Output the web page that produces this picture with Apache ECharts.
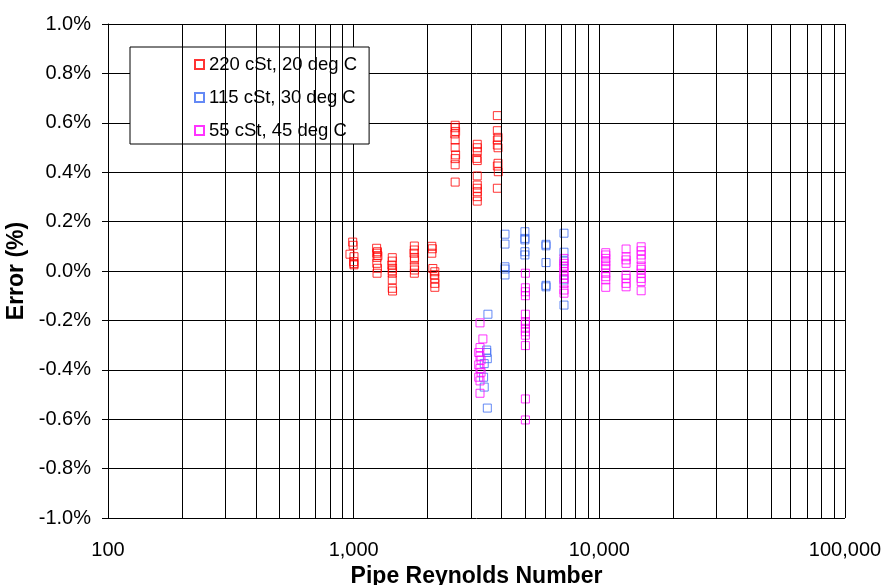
<!DOCTYPE html>
<html>
<head>
<meta charset="utf-8">
<script src="https://cdn.jsdelivr.net/npm/echarts@6/dist/echarts.min.js"></script>
<style>
  html, body { margin: 0; padding: 0; background: #fff; }
  #chart { width: 886px; height: 585px; }
</style>
</head>
<body>
<div id="chart"></div>
<script>
// Pipe Reynolds number (x) and error in % (y)
var oil220X = [991, 995, 966, 1003, 1000, 1003, 1003,
  1240, 1250, 1242, 1255, 1245, 1242, 1250, 1245,
  1436, 1436, 1430, 1440, 1436, 1436, 1436, 1436, 1440,
  1766, 1766, 1760, 1770, 1766, 1766, 1770, 1766,
  2080, 2090, 2080, 2100, 2140, 2130, 2140, 2140, 2140,
  2589, 2589, 2600, 2580, 2589, 2589, 2600, 2589, 2589, 2589,
  3185, 3185, 3185, 3170, 3185, 3185, 3185, 3185, 3185, 3185, 3185,
  3845, 3845, 3870, 3845, 3845, 3870, 3870, 3845, 3880, 3845];
var oil220Y = [0.117, 0.104, 0.068, 0.058, 0.038, 0.030, 0.025,
  0.092, 0.078, 0.072, 0.062, 0.055, 0.031, 0.011, -0.009,
  0.054, 0.040, 0.024, 0.011, 0.001, -0.009, -0.036, -0.070, -0.081,
  0.101, 0.085, 0.072, 0.055, 0.045, 0.017, 0.004, -0.009,
  0.100, 0.090, 0.072, 0.010, -0.003, -0.015, -0.030, -0.050, -0.066,
  0.590, 0.580, 0.565, 0.555, 0.530, 0.500, 0.470, 0.455, 0.430, 0.360,
  0.513, 0.499, 0.483, 0.456, 0.447, 0.385, 0.348, 0.335, 0.321, 0.301, 0.283,
  0.629, 0.568, 0.541, 0.530, 0.510, 0.499, 0.436, 0.425, 0.402, 0.335];

var oil115X = [3520, 3480, 3480, 3500, 3400, 3380, 3400, 3500,
  4130, 4130, 4130, 4130, 4130,
  4978, 4978, 4978, 4978, 4978,
  6066, 6066, 6066, 6066, 6066,
  7180, 7180, 7180, 7180, 7180];
var oil115Y = [-0.175, -0.320, -0.330, -0.355, -0.375, -0.430, -0.470, -0.555,
  0.149, 0.109, 0.017, 0.008, -0.016,
  0.159, 0.132, 0.126, 0.078, 0.065,
  0.108, 0.102, 0.034, -0.058, -0.064,
  0.153, 0.076, 0.040, -0.036, -0.138];

var oil55X = [3268, 3357, 3268, 3230, 3268, 3300, 3230, 3268, 3300, 3230, 3268, 3268,
  5000, 5000, 5000, 5000, 5000, 5000, 5000, 5000, 5000, 5000, 5000, 5000, 5000,
  7180, 7180, 7180, 7180, 7180, 7180, 7180, 7180, 7180, 7180,
  10620, 10620, 10620, 10620, 10620, 10620, 10620, 10620, 10620, 10620,
  12850, 12850, 12850, 12850, 12850, 12850, 12850, 12850,
  14800, 14800, 14800, 14800, 14800, 14800, 14800, 14800, 14800, 14800];
var oil55Y = [-0.210, -0.275, -0.310, -0.330, -0.345, -0.360, -0.380, -0.395, -0.410, -0.430, -0.445, -0.495,
  -0.009, -0.068, -0.084, -0.100, -0.175, -0.205, -0.215, -0.232, -0.246, -0.260, -0.302, -0.518, -0.603,
  0.051, 0.031, 0.020, 0.011, -0.003, -0.016, -0.030, -0.050, -0.077, -0.090,
  0.074, 0.065, 0.051, 0.038, 0.024, 0.011, -0.009, -0.023, -0.036, -0.066,
  0.089, 0.058, 0.045, 0.031, -0.016, -0.030, -0.050, -0.064,
  0.098, 0.082, 0.065, 0.047, 0.020, 0.007, -0.009, -0.030, -0.043, -0.080];

var seriesNames = ['220 cSt, 20 deg C', '115 cSt, 30 deg C', '55 cSt, 45 deg C'];
var seriesColors = ['#ff0000', '#3d6cf2', '#ff00ff'];

// minor vertical grid lines of the log axis (decades come from splitLine)
var minorGridX = [200, 300, 400, 500, 600, 700, 800, 900,
  2000, 3000, 4000, 5000, 6000, 7000, 8000, 9000,
  20000, 30000, 40000, 50000, 60000, 70000, 80000, 90000];

var FONT = "'Liberation Sans', Arial, sans-serif";

function zip(xs, ys) {
  return xs.map((x, i) => [x, ys[i]]);
}

function scatter(name, color, data) {
  return {
    name: name,
    type: 'scatter',
    symbol: 'rect',
    symbolSize: 8,
    itemStyle: {color: 'rgba(0,0,0,0)', borderColor: color, borderWidth: 1},
    data: data,
    z: 3,
  };
}

var chart = echarts.init(document.getElementById('chart'), null, {renderer: 'canvas'});

chart.setOption({
  animation: false,
  backgroundColor: '#fff',
  textStyle: {fontFamily: FONT},
  grid: {left: 108, top: 24, right: 41, bottom: 67, containLabel: false, outerBoundsMode: 'none'},
  legend: {
    data: seriesNames,
    orient: 'vertical',
    left: 130,
    top: 47,
    padding: [8, 12, 4, 64],
    itemGap: 14,
    itemWidth: 9,
    itemHeight: 9,
    backgroundColor: '#fff',
    borderColor: '#000',
    borderWidth: 1,
    textStyle: {fontFamily: FONT, fontSize: 18.5, color: '#000'},
  },
  xAxis: {
    type: 'log',
    logBase: 10,
    min: 100,
    max: 100000,
    name: 'Pipe Reynolds Number',
    nameLocation: 'middle',
    nameGap: 42,
    nameTextStyle: {fontFamily: FONT, fontSize: 23, fontWeight: 'bold', color: '#000'},
    axisLine: {lineStyle: {color: '#000', width: 1}},
    axisTick: {show: true, length: 6, inside: false, lineStyle: {color: '#000'}},
    axisLabel: {
      margin: 22,
      fontFamily: FONT, fontSize: 20, color: '#000',
      formatter: v => Math.round(v).toLocaleString('en-US'),
    },
    splitLine: {show: true, lineStyle: {color: '#000', width: 1}},
  },
  yAxis: {
    type: 'value',
    min: -1,
    max: 1,
    interval: 0.2,
    name: 'Error (%)',
    nameLocation: 'middle',
    nameGap: 65,
    nameTextStyle: {fontFamily: FONT, fontSize: 23, fontWeight: 'bold', color: '#000'},
    axisLine: {show: true, lineStyle: {color: '#000', width: 1}},
    axisTick: {show: true, length: 6, inside: false, lineStyle: {color: '#000'}},
    axisLabel: {
      margin: 17,
      fontFamily: FONT, fontSize: 20, color: '#000',
      formatter: v => (Math.abs(v) < 1e-9 ? 0 : v).toFixed(1) + '%',
    },
    splitLine: {show: true, lineStyle: {color: '#000', width: 1}},
  },
  series: [
    {
      name: 'grid',
      type: 'scatter',
      data: [],
      silent: true,
      z: 1,
      markLine: {
        silent: true,
        symbol: ['none', 'none'],
        label: {show: false},
        lineStyle: {color: '#000', width: 1, type: 'solid'},
        emphasis: {disabled: true},
        data: minorGridX.map(x => ({xAxis: x})),
      },
    },
    scatter(seriesNames[0], seriesColors[0], zip(oil220X, oil220Y)),
    scatter(seriesNames[1], seriesColors[1], zip(oil115X, oil115Y)),
    scatter(seriesNames[2], seriesColors[2], zip(oil55X, oil55Y)),
  ],
});
</script>
</body>
</html>
